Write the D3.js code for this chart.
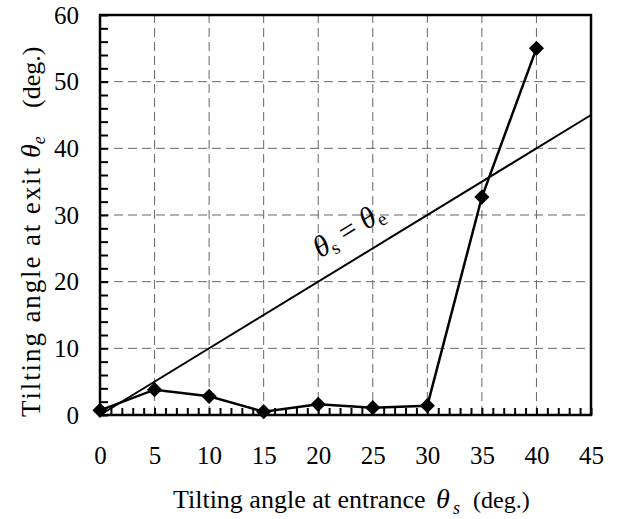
<!DOCTYPE html>
<html>
<head>
<meta charset="utf-8">
<script src="https://cdn.jsdelivr.net/npm/d3@7"></script>
<style>
  body { margin: 0; background: #fff; }
  svg text { font-family: "Liberation Serif", "DejaVu Serif", "Times New Roman", serif; fill: #000; }
</style>
</head>
<body>
<div id="container"></div>
<script>

// measured entrance / exit tilting angles (deg.)
const entranceAngles = [0, 5, 10, 15, 20, 25, 30, 35, 40];
const exitAngles = [0.7, 3.8, 2.8, 0.5, 1.6, 1.1, 1.4, 32.7, 55];

const xTickValues = [0, 5, 10, 15, 20, 25, 30, 35, 40, 45];
const yTickValues = [0, 10, 20, 30, 40, 50, 60];
const equalLine = [0, 45];

function main() {

    const svgWidth = 623;
    const svgHeight = 519;

    const svg = d3.select("#container")
        .append("svg")
        .attr("width", svgWidth)
        .attr("height", svgHeight);

    const xScale = d3.scaleLinear()
        .domain([0, 45])
        .range([100, 591]);

    const yScale = d3.scaleLinear()
        .domain([0, 60])
        .range([415, 15]);

    // dashed grid
    svg.append("g")
        .selectAll("line")
        .data(xTickValues.slice(1, -1))
        .join("line")
        .attr("x1", d => xScale(d))
        .attr("x2", d => xScale(d))
        .attr("y1", yScale(0))
        .attr("y2", yScale(60))
        .attr("stroke", "#666")
        .attr("stroke-width", 1)
        .attr("stroke-dasharray", "9,5");

    svg.append("g")
        .selectAll("line")
        .data(yTickValues.slice(1, -1))
        .join("line")
        .attr("x1", xScale(0))
        .attr("x2", xScale(45))
        .attr("y1", d => yScale(d))
        .attr("y2", d => yScale(d))
        .attr("stroke", "#666")
        .attr("stroke-width", 1)
        .attr("stroke-dasharray", "9,5");

    // inward minor ticks
    const xTicks = svg.append("g")
        .attr("transform", `translate(0,${yScale(0)})`)
        .call(d3.axisBottom(xScale).tickValues(d3.range(0, 46, 1)).tickSize(-7).tickFormat(""));
    const yTicks = svg.append("g")
        .attr("transform", `translate(${xScale(0)},0)`)
        .call(d3.axisLeft(yScale).tickValues(d3.range(0, 61, 2)).tickSize(-8).tickFormat(""));
    [xTicks, yTicks].forEach(g => {
        g.select(".domain").remove();
        g.selectAll("line").attr("stroke", "#000").attr("stroke-width", 2);
    });

    // tick labels
    const xLabels = svg.append("g")
        .attr("transform", `translate(0,${yScale(0)})`)
        .call(d3.axisBottom(xScale).tickValues(xTickValues).tickSize(0).tickPadding(31).tickFormat(d3.format("d")));
    const yLabels = svg.append("g")
        .attr("transform", `translate(${xScale(0)},0)`)
        .call(d3.axisLeft(yScale).tickValues(yTickValues).tickSize(0).tickPadding(21).tickFormat(d3.format("d")));
    [xLabels, yLabels].forEach(g => {
        g.attr("font-family", null);
        g.select(".domain").remove();
        g.selectAll("text")
            .attr("font-size", 25)
            .attr("fill", "#000");
    });

    // frame
    svg.append("rect")
        .attr("x", xScale(0))
        .attr("y", yScale(60))
        .attr("width", xScale(45) - xScale(0))
        .attr("height", yScale(0) - yScale(60))
        .attr("fill", "none")
        .attr("stroke", "#000")
        .attr("stroke-width", 2.5);

    // theta_s = theta_e reference line
    svg.append("path")
        .datum(equalLine)
        .attr("fill", "none")
        .attr("stroke", "#000")
        .attr("stroke-width", 2)
        .attr("d", d3.line()
            .x(d => xScale(d))
            .y(d => yScale(d)));

    const angle = -Math.atan((yScale(0) - yScale(1)) / (xScale(1) - xScale(0))) * 180 / Math.PI;
    const lbl = svg.append("text")
        .attr("transform", `translate(${xScale(23.2)},${yScale(23.2) - 22}) rotate(${angle})`)
        .attr("text-anchor", "middle")
        .attr("font-size", 30);
    lbl.append("tspan").attr("font-style", "italic").text("θ");
    lbl.append("tspan").attr("font-size", 19).attr("dy", 5).text("s");
    lbl.append("tspan").attr("dy", -5).text(" = ");
    lbl.append("tspan").attr("font-style", "italic").text("θ");
    lbl.append("tspan").attr("font-size", 19).attr("dy", 5).text("e");

    // measured series
    const points = entranceAngles.map((x, i) => [x, exitAngles[i]]);

    svg.append("path")
        .datum(points)
        .attr("fill", "none")
        .attr("stroke", "#000")
        .attr("stroke-width", 2.5)
        .attr("d", d3.line()
            .x(d => xScale(d[0]))
            .y(d => yScale(d[1])));

    svg.append("g")
        .selectAll("path")
        .data(points)
        .join("path")
        .attr("d", d3.symbol().type(d3.symbolSquare).size(115))
        .attr("transform", d => `translate(${xScale(d[0])},${yScale(d[1])}) rotate(45)`)
        .attr("fill", "#000");

    // x axis title
    const xTitle = svg.append("text")
        .attr("y", 508)
        .attr("font-size", 26);
    xTitle.append("tspan").attr("x", 173).text("Tilting angle at entrance");
    xTitle.append("tspan").attr("x", 436).attr("font-style", "italic").attr("font-size", 28).text("θ");
    xTitle.append("tspan").attr("x", 453).attr("dy", 6).attr("font-style", "italic").attr("font-size", 18).text("s");
    xTitle.append("tspan").attr("x", 473).attr("dy", -6).attr("font-size", 24).text("(deg.)");

    // y axis title (rotated: x runs upward, so positions are -y)
    const yTitle = svg.append("g")
        .attr("transform", "translate(40,0) rotate(-90)")
        .attr("font-size", 26);
    yTitle.append("text")
        .attr("x", -417)
        .attr("font-size", 27)
        .attr("textLength", 249)
        .attr("lengthAdjust", "spacing")
        .text("Tilting angle at exit");
    const yTheta = yTitle.append("text").attr("x", -158);
    yTheta.append("tspan").attr("font-style", "italic").attr("font-size", 28).text("θ");
    yTheta.append("tspan").attr("font-style", "italic").attr("font-size", 18).attr("dy", 5).text("e");
    yTitle.append("text")
        .attr("x", -108)
        .text("(deg.)");
}

main();
</script>
</body>
</html>
